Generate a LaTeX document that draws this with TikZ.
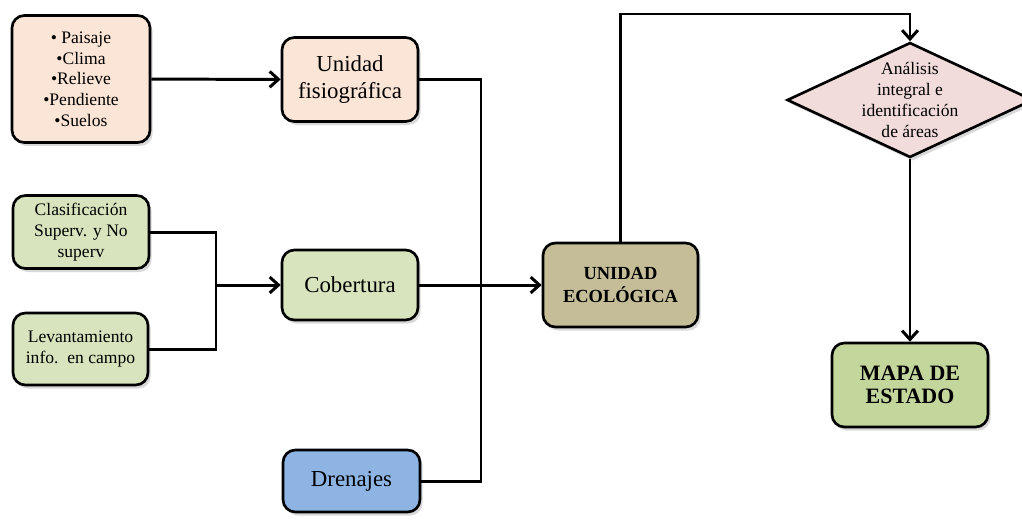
\documentclass[tikz,border=0pt]{standalone}
\usepackage{fontspec}
\setmainfont{Liberation Serif}
\usetikzlibrary{arrows.meta,shapes.geometric,shadows}
\definecolor{Pc}{HTML}{FBE5D6}
\definecolor{Gc}{HTML}{D7E4BD}
\definecolor{Bc}{HTML}{8EB4E3}
\definecolor{Tc}{HTML}{C4BD97}
\definecolor{Kc}{HTML}{F2DCDB}
\definecolor{Mc}{HTML}{C3D69B}
\tikzset{
  box/.style={rectangle, rounded corners=7pt, draw=black, line width=1.5pt, align=center, inner sep=2pt,
    drop shadow={shadow xshift=1.5pt, shadow yshift=-2pt, opacity=0.3}},
  smalltxt/.style={font=\fontsize{10}{11.8}\selectfont},
  bigtxt/.style={font=\fontsize{13}{15.3}\selectfont},
  boldtxt/.style={font=\bfseries\fontsize{10.5}{13.2}\selectfont},
  mapatxt/.style={font=\bfseries\fontsize{12.5}{13.2}\selectfont},
  decide/.style={diamond, draw=black, line width=1.5pt, fill=Kc, inner sep=0pt,
    minimum width=4.92cm, minimum height=2.3cm,
    drop shadow={shadow xshift=1.5pt, shadow yshift=-2pt, opacity=0.3}},
  link/.style={line width=1.7pt},
  arr/.style={link, -{Straight Barb[length=5pt, width=9pt, line width=1.7pt]}},
}

\begin{document}
\begin{tikzpicture}[x=0.02cm, y=-0.02cm]
  \useasboundingbox (0,0) rectangle (1022,525);
  \node[box, smalltxt, fill=Pc, minimum width=2.76cm, minimum height=2.54cm] (paisaje) at (81,79)
    {• Paisaje\\•Clima\\•Relieve\\•Pendiente\\•Suelos};
  \node[box, bigtxt, fill=Pc, minimum width=2.72cm, minimum height=1.68cm] (fisio) at (350,79.5)
    {Unidad\\fisiográfica};
  \node[box, smalltxt, fill=Gc, minimum width=2.72cm, minimum height=1.46cm] (clasif) at (81,232)
    {Clasificación\\Superv. y No\\superv};
  \node[box, smalltxt, fill=Gc, minimum width=2.70cm, minimum height=1.44cm] (levant) at (80.5,349)
    {Levantamiento\\info.\ \ en campo};
  \node[box, bigtxt, fill=Gc, minimum width=2.72cm, minimum height=1.40cm] (cobert) at (350,285) {Cobertura};
  \node[box, bigtxt, fill=Bc, minimum width=2.74cm, minimum height=1.24cm] (drenaj) at (351.5,481) {Drenajes};
  \node[box, boldtxt, fill=Tc, minimum width=3.10cm, minimum height=1.68cm] (unidad) at (620.5,285)
    {UNIDAD\\ECOLÓGICA};
  \node[decide, label={[smalltxt, align=center]center:{Análisis\\integral e\\identificación\\de áreas}}]
    (analisis) at (910,100) {};
  \node[box, mapatxt, fill=Mc, minimum width=3.12cm, minimum height=1.68cm] (mapa) at (910,385)
    {MAPA DE\\ESTADO};
  \coordinate (bus) at (481,285);
  \coordinate (fork) at (216,285);
  \coordinate (ridge) at (760,14);
  \draw[arr] (paisaje) -- (fisio);
  \draw[link] (clasif.east) -| (fork) |- (levant.east);
  \draw[arr] (fork) -- (cobert.west);
  \draw[link] (fisio.east) -| (bus) |- (drenaj.east);
  \draw[arr] (cobert) -- (unidad);
  \draw[arr] (unidad.north) |- (ridge) -| (analisis.north);
  \draw[arr] (analisis.south) -- (mapa.north);
\end{tikzpicture}
\end{document}
